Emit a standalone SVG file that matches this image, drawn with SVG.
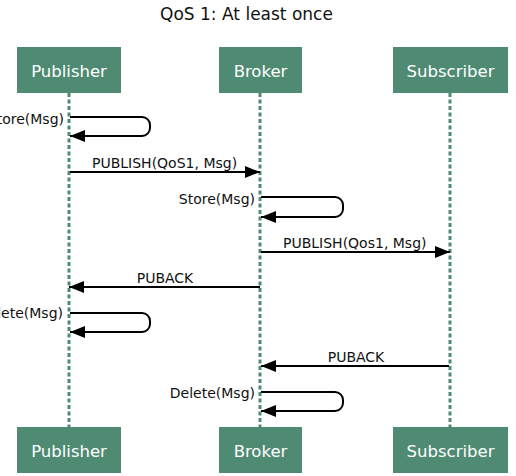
<svg xmlns="http://www.w3.org/2000/svg" width="516" height="476" viewBox="0 0 516 476">
<style>
.box{fill:#4f8b73;}
.bt{font-family:"DejaVu Sans",Verdana,sans-serif;font-size:16.5px;fill:#fff;text-anchor:middle;}
.life{stroke:#4f8b73;stroke-width:3;stroke-dasharray:4 2.5;fill:none;}
.msg{stroke:#000;stroke-width:2;fill:none;marker-end:url(#ah);}
.lbl{font-family:"DejaVu Sans",Verdana,sans-serif;font-size:14px;fill:#111;}
.title{font-family:"DejaVu Sans",Verdana,sans-serif;font-size:17px;fill:#111;text-anchor:middle;}
</style>
<defs>
<marker id="ah" markerUnits="userSpaceOnUse" markerWidth="16" markerHeight="13" refX="15" refY="6" orient="auto">
<path d="M0,0 L15,6 L0,12 z" fill="#000"/>
</marker>
</defs>
<rect width="516" height="476" fill="#fff"/>
<text class="title" x="246.5" y="20">QoS 1: At least once</text>
<g id="lifelines">
<line class="life" x1="69" y1="93" x2="69" y2="427"/>
<line class="life" x1="260" y1="93" x2="260" y2="427"/>
<line class="life" x1="450" y1="93" x2="450" y2="427"/>
</g>
<g id="publisher-top"><rect class="box" x="17" y="47" width="104" height="46"/><text class="bt" x="69" y="77">Publisher</text></g>
<g id="broker-top"><rect class="box" x="219" y="47" width="83" height="46"/><text class="bt" x="260.5" y="77">Broker</text></g>
<g id="subscriber-top"><rect class="box" x="393" y="47" width="115" height="46"/><text class="bt" x="450.5" y="77">Subscriber</text></g>
<g id="publisher-bottom"><rect class="box" x="17" y="427" width="104" height="46"/><text class="bt" x="69" y="457">Publisher</text></g>
<g id="broker-bottom"><rect class="box" x="219" y="427" width="83" height="46"/><text class="bt" x="260.5" y="457">Broker</text></g>
<g id="subscriber-bottom"><rect class="box" x="393" y="427" width="115" height="46"/><text class="bt" x="450.5" y="457">Subscriber</text></g>
<g id="connectors">
<path class="msg" d="M70,117 H142 A8,8 0 0 1 150,125 V128 A8,8 0 0 1 142,136 H70"/>
<path class="msg" d="M70,172 H260"/>
<path class="msg" d="M261,197 H335 A8,8 0 0 1 343,205 V209 A8,8 0 0 1 335,217 H261"/>
<path class="msg" d="M261,252 H450"/>
<path class="msg" d="M260,287 H69"/>
<path class="msg" d="M70,313 H142 A8,8 0 0 1 150,321 V324 A8,8 0 0 1 142,332 H70"/>
<path class="msg" d="M449,366 H261"/>
<path class="msg" d="M261,392 H335 A8,8 0 0 1 343,400 V403 A8,8 0 0 1 335,411 H261"/>
</g>
<g id="labels">
<text class="lbl" x="64" y="124" text-anchor="end">Store(Msg)</text>
<text class="lbl" x="92" y="168">PUBLISH(QoS1, Msg)</text>
<text class="lbl" x="255" y="204" text-anchor="end">Store(Msg)</text>
<text class="lbl" x="283" y="248">PUBLISH(Qos1, Msg)</text>
<text class="lbl" x="165" y="283" text-anchor="middle">PUBACK</text>
<text class="lbl" x="63" y="318" text-anchor="end">Delete(Msg)</text>
<text class="lbl" x="356" y="362" text-anchor="middle">PUBACK</text>
<text class="lbl" x="255" y="398" text-anchor="end">Delete(Msg)</text>
</g>
</svg>
